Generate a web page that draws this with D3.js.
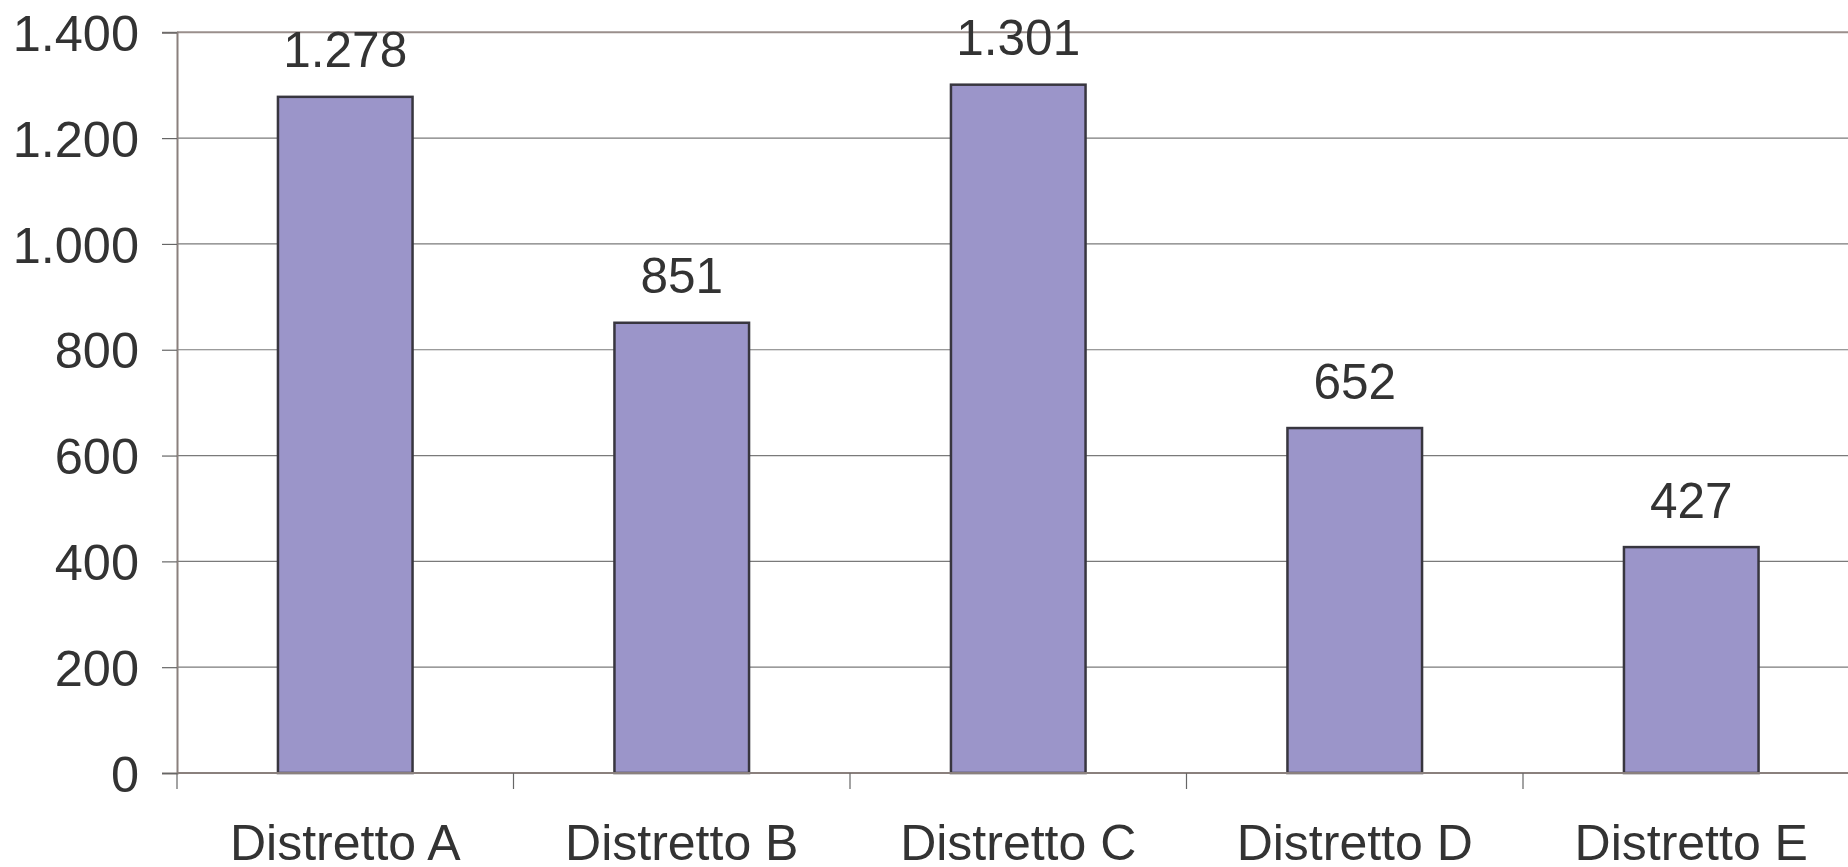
<!DOCTYPE html>
<html><head><meta charset="utf-8">
<script src="https://cdn.jsdelivr.net/npm/d3@7"></script>
<style>html,body{margin:0;padding:0;background:#fff;overflow:hidden}</style>
</head><body>
<svg id="c" width="1848" height="867"></svg>
<script>
const categories = ["Distretto A","Distretto B","Distretto C","Distretto D","Distretto E"];
const values = [1278, 851, 1301, 652, 427];
const yTicks = [0,200,400,600,800,1000,1200,1400];

const svg = d3.select("#c");
const mLeft = 177, mRight = 1859.5, mTop = 32.3, mBottom = 773;
const x = d3.scaleBand().domain(categories).range([mLeft, mRight]).paddingInner(0.6).paddingOuter(0.3);
const xb = d3.scaleBand().domain(categories).range([mLeft, mRight]);
const y = d3.scaleLinear().domain([0,1400]).range([mBottom, mTop]);
const fmt = v => d3.format(",")(v).replace(/,/g, ".");
const font = "'Liberation Sans', Arial, Helvetica, sans-serif";
const txt = "#333333";

// gridlines
svg.append("g").selectAll("line").data(yTicks.filter(t => t>0 && t<1400)).join("line")
  .attr("x1", mLeft).attr("x2", mRight).attr("y1", d=>y(d)).attr("y2", d=>y(d))
  .attr("stroke", "#7a7a7a").attr("stroke-width", 1.2);
// top border
svg.append("line").attr("x1", mLeft).attr("x2", mRight).attr("y1", y(1400)).attr("y2", y(1400))
  .attr("stroke", "#9a8f8c").attr("stroke-width", 2);

// y axis
const ya = svg.append("g").attr("transform", `translate(${mLeft},0)`)
  .call(d3.axisLeft(y).tickValues(yTicks).tickSize(15).tickPadding(23).tickFormat(fmt));
ya.select(".domain").attr("stroke", "#8a807d").attr("stroke-width", 2);
ya.selectAll(".tick line").attr("stroke", "#666").attr("stroke-width", 1.2);
ya.selectAll("text").attr("font-family", font).attr("font-size", 50.5).attr("fill", txt).attr("dy", "0.36em");

// bars
svg.append("g").selectAll("rect").data(values).join("rect")
  .attr("x", (d,i)=>x(categories[i])).attr("width", x.bandwidth())
  .attr("y", d=>y(d)).attr("height", d=>mBottom - y(d))
  .attr("fill", "#9b95c9").attr("stroke", "#38363f").attr("stroke-width", 2.5);

// x axis
const xa = svg.append("g").attr("transform", `translate(0,${mBottom})`);
xa.append("line").attr("x1", mLeft).attr("x2", mRight).attr("stroke", "#8a807d").attr("stroke-width", 2);
xa.selectAll(".tk").data(categories).join("line").attr("class","tk")
  .attr("x1", d=>xb(d)).attr("x2", d=>xb(d)).attr("y1", 0).attr("y2", 16)
  .attr("stroke", "#666").attr("stroke-width", 1.2);
xa.selectAll("text").data(categories).join("text")
  .attr("x", d=>xb(d)+xb.bandwidth()/2).attr("y", 87)
  .attr("text-anchor","middle").attr("font-family", font).attr("font-size", 50).attr("fill", txt)
  .text(d=>d);

// value labels
svg.append("g").selectAll("text").data(values).join("text")
  .attr("x", (d,i)=>x(categories[i]) + x.bandwidth()/2).attr("y", d=>y(d) - 29.5)
  .attr("text-anchor","middle").attr("font-family", font).attr("font-size", 49.5).attr("fill", txt)
  .text(d=>fmt(d));
</script>
</body></html>
